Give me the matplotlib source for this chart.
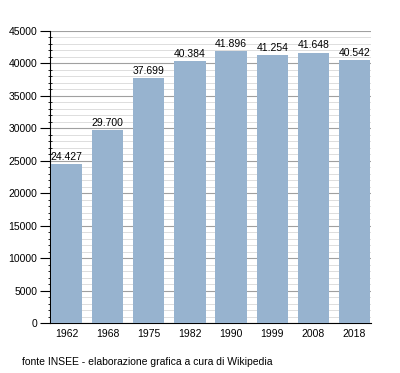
import matplotlib
matplotlib.use("Agg")
import matplotlib.pyplot as plt
from matplotlib.ticker import MultipleLocator

plt.rcParams["font.family"] = ["Liberation Sans", "DejaVu Sans"]

years = ["1962", "1968", "1975", "1982", "1990", "1999", "2008", "2018"]
population = [24427, 29700, 37699, 40384, 41896, 41254, 41648, 40542]
labels = ["24.427", "29.700", "37.699", "40.384", "41.896", "41.254", "41.648", "40.542"]

BAR = "#97b3cf"

fig = plt.figure(figsize=(4.0, 3.73), dpi=100)
ax = fig.add_axes([0.125, 0.134, 0.8025, 0.783])

x = range(len(years))
ax.bar(x, population, width=0.76, color=BAR, zorder=3)
for xi, v, lab in zip(x, population, labels):
    ax.text(xi, v + 350, lab, ha="center", va="bottom", fontsize=7.5, zorder=4)

ax.set_xlim(-0.4, len(years) - 0.6)
ax.set_ylim(0, 45000)
ax.set_xticks(list(x))
ax.set_xticklabels(years)
ax.yaxis.set_major_locator(MultipleLocator(5000))
ax.yaxis.set_minor_locator(MultipleLocator(1000))
ax.grid(axis="y", which="major", color="#a0a0a0", linewidth=0.8, zorder=0)
ax.grid(axis="y", which="minor", color="#dddddd", linewidth=0.7, zorder=0)
ax.tick_params(axis="x", length=0, labelsize=7.5, pad=4)
ax.tick_params(axis="y", which="major", length=7, labelsize=7.5, pad=2)
ax.tick_params(axis="y", which="minor", length=2.5, direction="inout")
for s in ("top", "right"):
    ax.spines[s].set_visible(False)
ax.spines["left"].set_linewidth(0.8)
ax.spines["bottom"].set_linewidth(0.8)

fig.text(0.055, 0.03, "fonte INSEE - elaborazione grafica a cura di Wikipedia",
         fontsize=7.5, ha="left", va="center")

fig.savefig("out.png", dpi=100)
